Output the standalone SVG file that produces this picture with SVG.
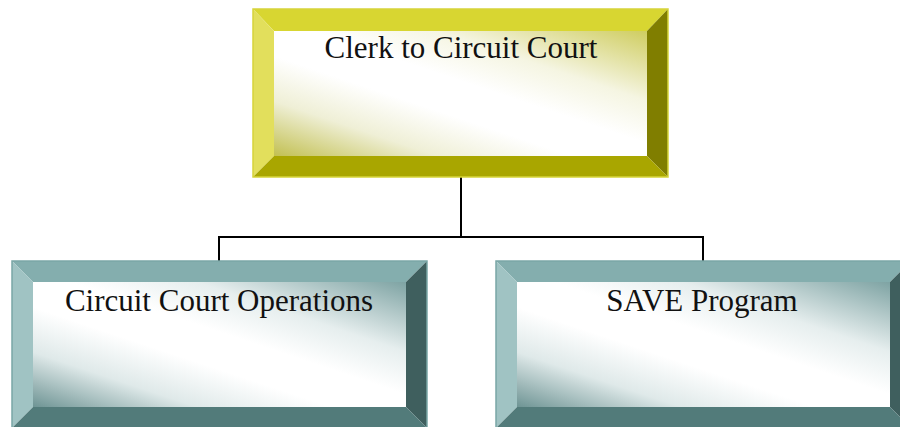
<svg xmlns="http://www.w3.org/2000/svg" width="900" height="427" viewBox="0 0 900 427">
<style>
.t{font-family:"Liberation Serif","Times New Roman",serif;font-size:31px;fill:#111;text-anchor:middle}
.yT{fill:#d8d631}.yL{fill:#e2df5c}.yR{fill:#807e00}.yB{fill:#a9a600}
.gT{fill:#84aeae}.gL{fill:#a0c3c3}.gR{fill:#3f5f5e}.gB{fill:#527b7a}
.yO{fill:none;stroke:#d6d43a;stroke-width:1.5}
.gO{fill:none;stroke:#7aa6a6;stroke-width:1.5}
.conn{fill:none;stroke:#000;stroke-width:2}
</style>
<defs>
<linearGradient id="yg" x1="1" y1="0" x2="0" y2="1">
<stop offset="0" stop-color="#cfcd60"/>
<stop offset="0.28" stop-color="#f5f5e2"/>
<stop offset="0.45" stop-color="#ffffff"/>
<stop offset="0.6" stop-color="#ffffff"/>
<stop offset="0.78" stop-color="#efefd6"/>
<stop offset="1" stop-color="#c2c052"/>
</linearGradient>
<linearGradient id="gg" x1="1" y1="0" x2="0" y2="1">
<stop offset="0" stop-color="#7ea3a3"/>
<stop offset="0.28" stop-color="#e6eeee"/>
<stop offset="0.45" stop-color="#ffffff"/>
<stop offset="0.6" stop-color="#ffffff"/>
<stop offset="0.78" stop-color="#dfe9e9"/>
<stop offset="1" stop-color="#6e9494"/>
</linearGradient>
</defs>
<g id="connectors">
<path class="conn" d="M461 177 V237 M219 261 V237 H703 V261"/>
</g>
<g id="clerk">
<polygon class="yT" points="253,9 668,9 647,31 274,31"/>
<polygon class="yL" points="253,9 274,31 274,156 253,177"/>
<polygon class="yR" points="668,9 668,177 647,156 647,31"/>
<polygon class="yB" points="253,177 274,156 647,156 668,177"/>
<rect x="274" y="31" width="373" height="125" fill="url(#yg)"/>
<rect class="yO" x="253" y="9" width="415" height="168"/>
<text class="t" x="461" y="58">Clerk to Circuit Court</text>
</g>
<g id="operations">
<polygon class="gT" points="12,261 427,261 406,282 33,282"/>
<polygon class="gL" points="12,261 33,282 33,407 12,428"/>
<polygon class="gR" points="427,261 427,428 406,407 406,282"/>
<polygon class="gB" points="12,428 33,407 406,407 427,428"/>
<rect x="33" y="282" width="373" height="125" fill="url(#gg)"/>
<rect class="gO" x="12" y="261" width="415" height="167"/>
<text class="t" x="219" y="311">Circuit Court Operations</text>
</g>
<g id="save">
<polygon class="gT" points="496,261 911,261 890,282 517,282"/>
<polygon class="gL" points="496,261 517,282 517,407 496,428"/>
<polygon class="gR" points="911,261 911,428 890,407 890,282"/>
<polygon class="gB" points="496,428 517,407 890,407 911,428"/>
<rect x="517" y="282" width="373" height="125" fill="url(#gg)"/>
<rect class="gO" x="496" y="261" width="415" height="167"/>
<text class="t" x="702" y="311">SAVE Program</text>
</g>
</svg>
